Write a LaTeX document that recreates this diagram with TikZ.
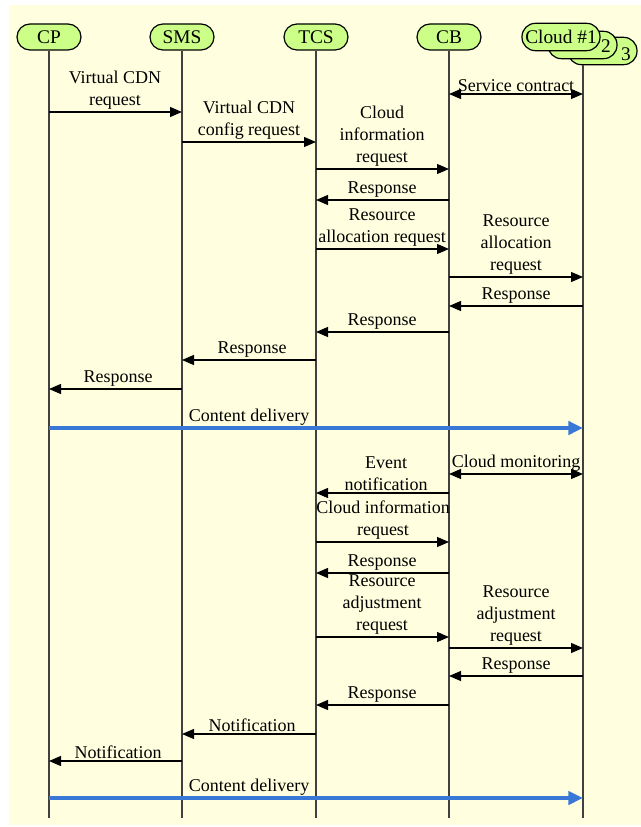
\documentclass[tikz,border=0pt]{standalone}
\usepackage{fontspec}
\setmainfont{Liberation Serif}
\usetikzlibrary{arrows.meta}
\definecolor{bgc}{RGB}{255,255,224}
\definecolor{nodegreen}{RGB}{204,255,136}
\definecolor{flowblue}{RGB}{58,120,216}
% name, style, from x, to x, y, label x, label
\newcommand\msgx[7]{%
  \coordinate (#1a) at (#3,#5);
  \coordinate (#1b) at (#4,#5);
  \draw[#2] (#1a) -- (#1b);
  \node[lbl] (#1t) at (#6,#5) {#7};
}
\begin{document}
\begin{tikzpicture}[x=0.75pt,y=-0.75pt,
  every node/.style={font=\fontsize{13.5}{16.5}\selectfont},
  actor/.style={draw=black, line width=0.9pt, fill=nodegreen, rounded corners=9.75pt,
    minimum width=48pt, minimum height=19.5pt, inner sep=0pt, font=\fontsize{14.5}{16.5}\selectfont},
  cloudbox/.style={draw=black, line width=0.9pt, fill=nodegreen, rounded corners=10pt,
    minimum height=20.5pt, inner sep=0pt, font=\fontsize{14.5}{16.5}\selectfont},
  life/.style={line width=0.9pt, draw=black!75},
  msg/.style={line width=0.9pt, -{Triangle[length=9pt,width=7.5pt]}},
  bimsg/.style={line width=0.9pt, {Triangle[length=9pt,width=7.5pt]}-{Triangle[length=9pt,width=7.5pt]}},
  flow/.style={line width=2.6pt, draw=flowblue, -{Triangle[length=11pt,width=10pt]}},
  lbl/.style={align=center, anchor=south, inner sep=0pt, yshift=1.5pt}]
\useasboundingbox (0,0) rectangle (641,827);
\fill[bgc] (9,5) rectangle (641,825);

% actors
\node[actor] (cp)  at (49,37)  {CP};
\node[actor] (sms) at (182,37) {SMS};
\node[actor] (tcs) at (316,37) {TCS};
\node[actor] (cb)  at (449,37) {CB};
\node[cloudbox, minimum width=51.75pt] (cl3) at (602.5,51) {};
\node[cloudbox, minimum width=51.75pt] (cl2) at (582.5,45) {};
\node[cloudbox, minimum width=58.5pt] (cl1) at (561,37) {Cloud \#1};
\node[inner sep=0pt, font=\fontsize{14.5}{16.5}\selectfont] (n2) at (606,46) {2};
\node[inner sep=0pt, font=\fontsize{14.5}{16.5}\selectfont] (n3) at (626,54) {3};

% lifeline ends
\coordinate (cpend)  at (49,818);
\coordinate (smsend) at (182,818);
\coordinate (tcsend) at (316,818);
\coordinate (cbend)  at (449,818);
\coordinate (clend)  at (583,818);
\draw[life] (cp) -- (cpend);
\draw[life] (sms) -- (smsend);
\draw[life] (tcs) -- (tcsend);
\draw[life] (cb) -- (cbend);
\draw[life] (cl3.south -| clend) -- (clend);

% messages
\msgx{m1}{msg}{49}{182}{112}{115}{Virtual CDN\\request}
\msgx{m2}{msg}{182}{316}{142}{249}{Virtual CDN\\config request}
\msgx{m3}{bimsg}{449}{583}{94}{516}{Service contract}
\msgx{m4}{msg}{316}{449}{169}{382}{Cloud\\information\\request}
\msgx{m5}{msg}{449}{316}{200}{382}{Response}
\msgx{m6}{msg}{316}{449}{249}{382}{Resource\\allocation request}
\msgx{m7}{msg}{449}{583}{277}{516}{Resource\\allocation\\request}
\msgx{m8}{msg}{583}{449}{306}{516}{Response}
\msgx{m9}{msg}{449}{316}{332}{382}{Response}
\msgx{m10}{msg}{316}{182}{360}{252}{Response}
\msgx{m11}{msg}{182}{49}{389}{118}{Response}
\msgx{m12}{flow}{49}{583}{428}{249}{Content delivery}
\msgx{m13}{bimsg}{449}{583}{474}{516}{Cloud monitoring}
\msgx{m14}{msg}{449}{316}{493}{386}{Event\\notification}
\msgx{m15}{msg}{316}{449}{542}{383}{Cloud information\\request}
\msgx{m16}{msg}{449}{316}{573}{382}{Response}
\msgx{m17}{msg}{316}{449}{637}{382}{Resource\\adjustment\\request}
\msgx{m18}{msg}{449}{583}{648}{516}{Resource\\adjustment\\request}
\msgx{m19}{msg}{583}{449}{676}{516}{Response}
\msgx{m20}{msg}{449}{316}{705}{382}{Response}
\msgx{m21}{msg}{316}{182}{734}{252}{Notification}
\msgx{m22}{msg}{182}{49}{761}{118}{Notification}
\msgx{m23}{flow}{49}{583}{798}{249}{Content delivery}
\end{tikzpicture}
\end{document}
